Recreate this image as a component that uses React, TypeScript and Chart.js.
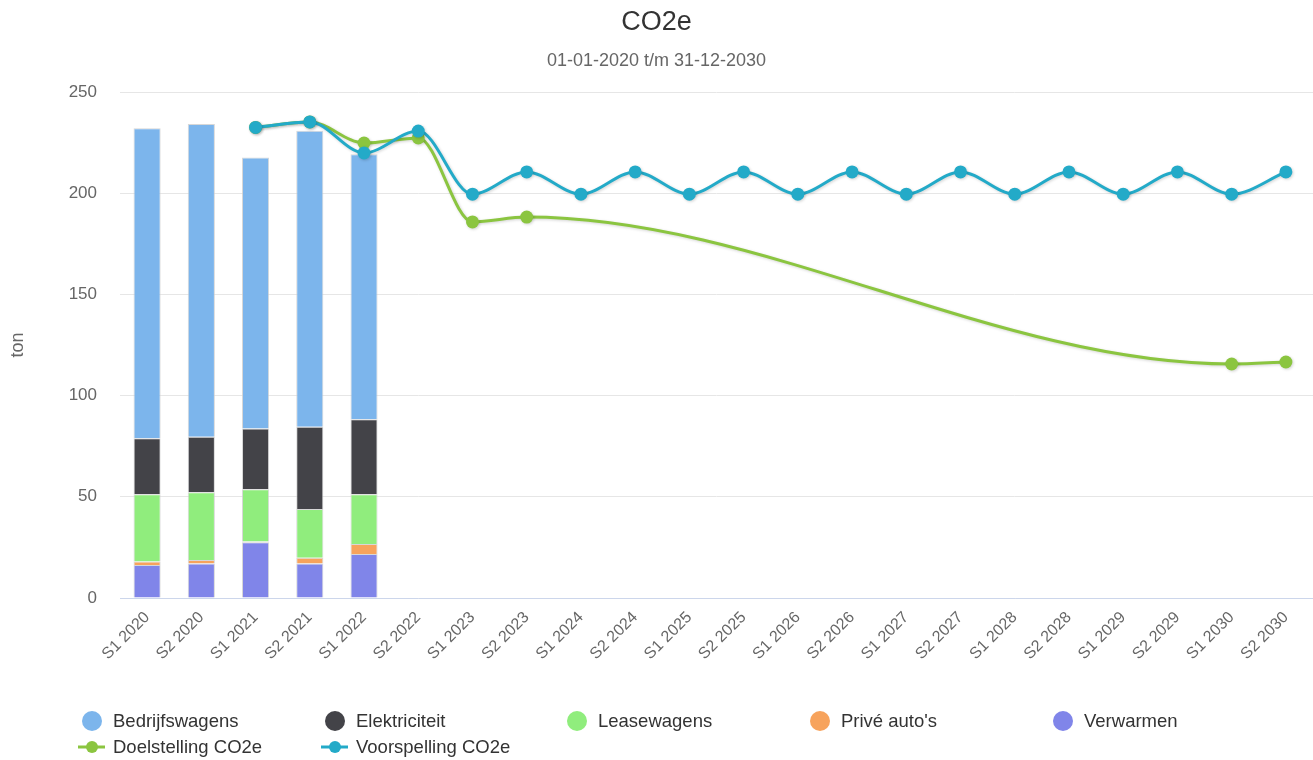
import React, { useEffect, useRef } from "react";
import { Chart, registerables } from "chart.js";

Chart.register(...registerables);

const categories = [
  "S1 2020", "S2 2020", "S1 2021", "S2 2021", "S1 2022", "S2 2022",
  "S1 2023", "S2 2023", "S1 2024", "S2 2024", "S1 2025", "S2 2025",
  "S1 2026", "S2 2026", "S1 2027", "S2 2027", "S1 2028", "S2 2028",
  "S1 2029", "S2 2029", "S1 2030", "S2 2030",
];

const verwarmen = [16.3, 17.1, 27.5, 17.1, 21.7];
const priveAutos = [1.7, 1.7, 0.4, 2.8, 5.0];
const leasewagens = [33.2, 33.4, 25.8, 24.1, 24.5];
const elektriciteit = [27.7, 27.5, 30.1, 40.6, 37.1];
const bedrijfswagens = [153.2, 154.5, 133.9, 146.3, 131.0];

const doelstelling = [
  null, null, 232.5, 235.2, 224.8, 227.3, 185.8, 188.2,
  null, null, null, null, null, null, null, null, null, null, null, null,
  115.6, 116.6,
];

const voorspelling = [
  null, null, 232.5, 235.2, 219.9, 230.7, 199.5, 210.5,
  199.5, 210.5, 199.5, 210.5, 199.5, 210.5, 199.5, 210.5,
  199.5, 210.5, 199.5, 210.5, 199.5, 210.5,
];

const yTicks = [0, 50, 100, 150, 200, 250];

const COLORS = {
  bedr: "#7cb5ec",
  elek: "#434348",
  lease: "#90ed7d",
  prive: "#f7a35c",
  verw: "#8085e9",
  doel: "#8bc540",
  voor: "#23aac8",
};

const FONT = '"Liberation Sans", Arial, Helvetica, sans-serif';

const legendItems = [
  { label: "Bedrijfswagens", color: COLORS.bedr, kind: "circle" },
  { label: "Elektriciteit", color: COLORS.elek, kind: "circle" },
  { label: "Leasewagens", color: COLORS.lease, kind: "circle" },
  { label: "Privé auto's", color: COLORS.prive, kind: "circle" },
  { label: "Verwarmen", color: COLORS.verw, kind: "circle" },
  { label: "Doelstelling CO2e", color: COLORS.doel, kind: "line" },
  { label: "Voorspelling CO2e", color: COLORS.voor, kind: "line" },
];

const customLegend = {
  id: "customLegend",
  afterDraw(chart: any) {
    const ctx = chart.ctx;
    const colX = [92, 335, 577, 820, 1063];
    const rowY = [721, 747];
    ctx.save();
    ctx.font = "18.5px " + FONT;
    ctx.textBaseline = "middle";
    ctx.textAlign = "left";
    legendItems.forEach((it, i) => {
      const col = i % 5;
      const row = Math.floor(i / 5);
      const x = colX[col];
      const y = rowY[row];
      ctx.fillStyle = it.color;
      ctx.strokeStyle = it.color;
      if (it.kind === "circle") {
        ctx.beginPath();
        ctx.arc(x, y, 10, 0, Math.PI * 2);
        ctx.fill();
      } else {
        ctx.lineWidth = 3;
        ctx.beginPath();
        ctx.moveTo(x - 14, y);
        ctx.lineTo(x + 13, y);
        ctx.stroke();
        ctx.beginPath();
        ctx.arc(x, y, 6, 0, Math.PI * 2);
        ctx.fill();
      }
      ctx.fillStyle = "#333333";
      ctx.fillText(it.label, x + 21, y + 1);
    });
    ctx.restore();
  },
};

const lineShadow = {
  id: "lineShadow",
  beforeDatasetDraw(chart: any, args: any) {
    const ds = chart.data.datasets[args.index];
    if (ds.type === "line") {
      const ctx = chart.ctx;
      ctx.save();
      ctx.shadowColor = "rgba(0,0,0,0.18)";
      ctx.shadowBlur = 3;
      ctx.shadowOffsetX = 1;
      ctx.shadowOffsetY = 1;
    }
  },
  afterDatasetDraw(chart: any, args: any) {
    const ds = chart.data.datasets[args.index];
    if (ds.type === "line") chart.ctx.restore();
  },
};

export default function App() {
  const canvasRef = useRef<HTMLCanvasElement | null>(null);

  useEffect(() => {
    if (!canvasRef.current) return;
    const barCommon = {
      type: "bar" as const,
      stack: "bars",
      borderColor: "rgba(205,205,205,0.8)",
      borderWidth: 1,
      categoryPercentage: 0.5,
      barPercentage: 1,
      order: 2,
    };
    const lineCommon = {
      type: "line" as const,
      borderWidth: 3,
      pointRadius: 6.5,
      pointHoverRadius: 6.5,
      pointBorderWidth: 0,
      cubicInterpolationMode: "monotone" as const,
      spanGaps: true,
      fill: false,
    };
    const chart = new Chart(canvasRef.current, {
      data: {
        labels: categories,
        datasets: [
          { ...barCommon, label: "Verwarmen", data: verwarmen, backgroundColor: COLORS.verw },
          { ...barCommon, label: "Privé auto's", data: priveAutos, backgroundColor: COLORS.prive },
          { ...barCommon, label: "Leasewagens", data: leasewagens, backgroundColor: COLORS.lease },
          { ...barCommon, label: "Elektriciteit", data: elektriciteit, backgroundColor: COLORS.elek },
          { ...barCommon, label: "Bedrijfswagens", data: bedrijfswagens, backgroundColor: COLORS.bedr },
          {
            ...lineCommon,
            label: "Doelstelling CO2e",
            data: doelstelling,
            stack: "doel",
            borderColor: COLORS.doel,
            backgroundColor: COLORS.doel,
            order: 1,
          },
          {
            ...lineCommon,
            label: "Voorspelling CO2e",
            data: voorspelling,
            stack: "voor",
            borderColor: COLORS.voor,
            backgroundColor: COLORS.voor,
            order: 0,
          },
        ] as any,
      },
      options: {
        responsive: false,
        animation: false,
        devicePixelRatio: 1,
        layout: { autoPadding: false, padding: { left: 0, right: 0, top: 0, bottom: 0 } },
        plugins: {
          legend: { display: false },
          tooltip: { enabled: false },
          title: {
            display: true,
            text: "CO2e",
            color: "#333333",
            font: { family: FONT, size: 27, weight: "normal" },
            padding: { top: 6, bottom: 6 },
          },
          subtitle: {
            display: true,
            text: "01-01-2020 t/m 31-12-2030",
            color: "#666666",
            font: { family: FONT, size: 18, weight: "normal" },
            padding: { top: 6, bottom: 20 },
          },
        },
        scales: {
          x: {
            stacked: true,
            offset: true,
            grid: { display: false, drawTicks: false },
            border: { display: true, color: "#ccd6eb", width: 1 },
            ticks: {
              color: "#666666",
              font: { family: FONT, size: 16 },
              minRotation: 45,
              maxRotation: 45,
              autoSkip: false,
              padding: 10,
            },
            afterFit: (scale: any) => {
              scale.height = 162;
              scale.paddingRight = 0;
            },
          },
          y: {
            stacked: true,
            min: 0,
            max: 250,
            afterBuildTicks: (scale: any) => {
              scale.ticks = yTicks.map((v) => ({ value: v }));
            },
            grid: { color: "#e6e6e6", lineWidth: 1, drawTicks: false },
            border: { display: false },
            ticks: {
              color: "#666666",
              font: { family: FONT, size: 17 },
              padding: 23,
            },
            title: {
              display: true,
              text: "ton",
              color: "#666666",
              font: { family: FONT, size: 18 },
              padding: { top: 7, bottom: 0 },
            },
            afterFit: (scale: any) => {
              scale.width = 120;
            },
          },
        },
      },
      plugins: [customLegend, lineShadow],
    });
    return () => chart.destroy();
  }, []);

  return (
    <div style={{ position: "absolute", left: 0, top: 0, width: 1313, height: 760, background: "#ffffff" }}>
      <canvas ref={canvasRef} width={1313} height={760} />
    </div>
  );
}
